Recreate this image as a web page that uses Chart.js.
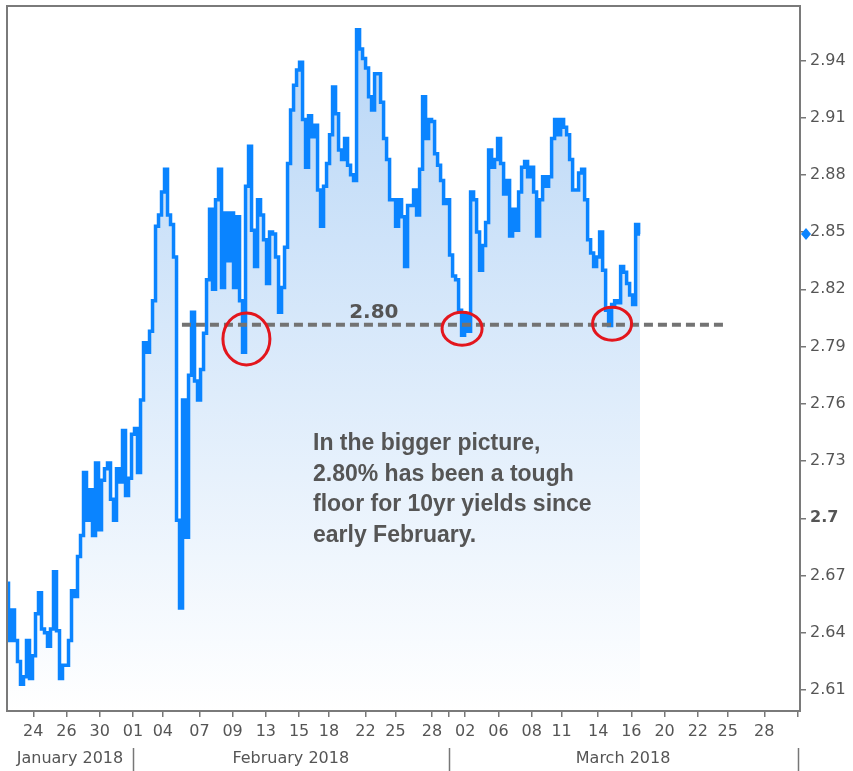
<!DOCTYPE html>
<html>
<head>
<meta charset="utf-8">
<script src="https://cdn.jsdelivr.net/npm/chart.js@4.4.1/dist/chart.umd.min.js"></script>
<style>
  html,body{margin:0;padding:0;background:#fff;}
  canvas{display:block;}
</style>
</head>
<body>
<canvas id="c" width="853" height="771"></canvas>
<script>
// 10yr yield, intraday. x is in trading days counted from Mon Jan 22 2018
// (weekends, Feb 19 and Good Friday left out, like the original axis)
const startDay = 0.42;
const stepDay = 0.1806; // one sample every ~4.3h

const yields = [
  2.666,2.636,2.652,2.636,2.625,2.613,2.617,2.636,2.616,2.628,
  2.650,2.661,2.642,2.640,2.633,2.642,2.672,2.641,2.616,2.623,
  2.623,2.636,2.662,2.659,2.680,2.691,2.724,2.699,2.715,2.691,
  2.729,2.694,2.720,2.726,2.729,2.710,2.699,2.726,2.719,2.746,
  2.712,2.721,2.744,2.747,2.724,2.762,2.792,2.787,2.798,2.814,
  2.853,2.859,2.871,2.883,2.859,2.854,2.837,2.699,2.653,2.762,
  2.690,2.775,2.808,2.772,2.762,2.778,2.797,2.825,2.862,2.820,
  2.867,2.883,2.821,2.860,2.835,2.860,2.821,2.858,2.814,2.787,
  2.874,2.895,2.851,2.832,2.867,2.859,2.846,2.823,2.850,2.849,
  2.837,2.808,2.821,2.842,2.886,2.914,2.927,2.935,2.939,2.909,
  2.884,2.911,2.900,2.906,2.872,2.853,2.874,2.886,2.901,2.926,
  2.912,2.893,2.888,2.899,2.885,2.880,2.877,2.956,2.946,2.941,
  2.936,2.921,2.914,2.933,2.933,2.918,2.899,2.888,2.867,2.867,
  2.853,2.867,2.858,2.832,2.864,2.864,2.872,2.859,2.883,2.921,
  2.899,2.909,2.908,2.891,2.885,2.877,2.865,2.867,2.838,2.827,
  2.825,2.809,2.796,2.807,2.798,2.871,2.867,2.850,2.830,2.843,
  2.855,2.893,2.884,2.888,2.899,2.886,2.870,2.877,2.848,2.862,
  2.851,2.871,2.884,2.887,2.879,2.884,2.871,2.848,2.867,2.879,
  2.874,2.879,2.899,2.909,2.901,2.909,2.905,2.901,2.888,2.872,
  2.872,2.881,2.883,2.867,2.846,2.839,2.832,2.837,2.850,2.830,
  2.809,2.801,2.812,2.814,2.813,2.832,2.829,2.823,2.817,2.812,
  2.854,2.849
];

const floorLabel = '2.80';
const floorLevel = 2.8015;
const floorFrom = 10.95;
const floorTo = 43.58;

const circleDays = [14.83, 27.81, 36.84];
const circleYields = [2.794, 2.7994, 2.802];

const tickDays   = [2, 4, 6, 8, 9.8, 12, 14, 16, 18, 19.8, 22, 23.8, 26, 27, 28, 30, 32, 33.8, 36, 38, 40, 42, 43.8, 46, 48];
const tickLabels = ['24','26','30','01','04','07','09','13','15','18','22','25','28','','02','06','08','11','14','16','20','22','25','28',''];

const monthStarts = [0.42, 8, 27];
const monthEnds = [8, 27, 48];
const monthNames = ['January 2018', 'February 2018', 'March 2018'];

const yTicks = [2.61, 2.64, 2.67, 2.70, 2.73, 2.76, 2.79, 2.82, 2.85, 2.88, 2.91, 2.94];
const yMin = 2.5990, yMax = 2.9685;
const xMin = 0.42, xMax = 48.15;

const noteLines = ['In the bigger picture,', '2.80% has been a tough', 'floor for 10yr yields since', 'early February.'];

const GREY = '#555555';
const BLUE = '#0a84ff';

function fillGradient(c){
  const area = c.chart.chartArea;
  if(!area) return 'rgba(0,0,0,0)';
  const g = c.chart.ctx.createLinearGradient(0, area.top, 0, area.bottom);
  g.addColorStop(0, 'rgb(182,213,246)');
  g.addColorStop(1, 'rgb(255,255,255)');
  return g;
}

const decor = {
  id: 'decor',
  afterDatasetsDraw(chart){
    const {ctx, scales:{x, y}} = chart;
    const radii = [[23.5, 26], [20, 16.5], [19.5, 16.5]];
    ctx.save();
    ctx.strokeStyle = '#e3161d';
    ctx.lineWidth = 3;
    circleDays.forEach((d, i) => {
      ctx.beginPath();
      ctx.ellipse(x.getPixelForValue(d), y.getPixelForValue(circleYields[i]), radii[i][0], radii[i][1], 0, 0, Math.PI*2);
      ctx.stroke();
    });
    // 2.80 label
    ctx.fillStyle = GREY;
    ctx.font = 'bold 20px "DejaVu Sans"';
    ctx.textAlign = 'center';
    ctx.textBaseline = 'alphabetic';
    ctx.fillText(floorLabel, x.getPixelForValue(22.5), y.getPixelForValue(floorLevel) - 7);
    // note
    ctx.textAlign = 'left';
    ctx.font = 'bold 23px "Liberation Sans"';
    noteLines.forEach((t, i) => ctx.fillText(t, 313, 450 + i*30.5));
    ctx.restore();
  },
  afterDraw(chart){
    const {ctx, chartArea:a, scales:{x, y}} = chart;
    ctx.save();
    // frame
    ctx.strokeStyle = '#7a7a7a';
    ctx.lineWidth = 2;
    ctx.strokeRect(a.left, a.top, a.right - a.left, a.bottom - a.top);
    // month separators + names
    ctx.lineWidth = 1.5;
    ctx.strokeStyle = '#777';
    monthEnds.forEach(d => {
      const px = Math.round(x.getPixelForValue(d)) + 0.5;
      ctx.beginPath(); ctx.moveTo(px, 748); ctx.lineTo(px, 771); ctx.stroke();
    });
    ctx.fillStyle = GREY;
    ctx.font = '16px "DejaVu Sans"';
    ctx.textAlign = 'center';
    ctx.textBaseline = 'middle';
    monthNames.forEach((m, i) => {
      const l = Math.max(a.left, x.getPixelForValue(monthStarts[i]));
      const r = x.getPixelForValue(monthEnds[i]);
      ctx.fillText(m, (l + r)/2, 759);
    });
    // last value marker on the axis
    const ly = y.getPixelForValue(yields[yields.length - 1]);
    const lx = a.right + 6;
    ctx.fillStyle = BLUE;
    ctx.beginPath();
    ctx.moveTo(lx, ly - 6); ctx.lineTo(lx + 5, ly); ctx.lineTo(lx, ly + 6); ctx.lineTo(lx - 5, ly);
    ctx.closePath(); ctx.fill();
    ctx.restore();
  }
};

const points = yields.map((v, i) => ({x: startDay + i*stepDay, y: v}));

new Chart(document.getElementById('c'), {
  type: 'line',
  data: {
    datasets: [
      {
        data: points,
        borderColor: BLUE,
        borderWidth: 3.5,
        pointRadius: 0,
        stepped: 'middle',
        fill: 'start',
        backgroundColor: fillGradient,
        order: 2
      },
      {
        data: [{x: floorFrom, y: floorLevel}, {x: floorTo, y: floorLevel}],
        borderColor: '#737373',
        borderWidth: 4,
        borderDash: [9, 5],
        pointRadius: 0,
        fill: false,
        order: 1
      }
    ]
  },
  options: {
    responsive: false,
    animation: false,
    layout: { padding: {left: 7, top: 6, right: 1, bottom: 0} },
    plugins: { legend: {display: false}, tooltip: {enabled: false} },
    scales: {
      x: {
        type: 'linear', min: xMin, max: xMax,
        afterBuildTicks: s => { s.ticks = tickDays.map(v => ({value: v})); },
        afterFit: s => { s.height = 60; s.paddingLeft = 0; s.paddingRight = 0; },
        grid: { drawOnChartArea: false, drawTicks: true, tickLength: 6, color: '#777', lineWidth: 1.5 },
        border: { display: false },
        ticks: {
          autoSkip: false, maxRotation: 0, padding: 5, color: GREY,
          font: { family: 'DejaVu Sans', size: 16 },
          callback: (v, i) => tickLabels[i]
        }
      },
      y: {
        position: 'right', min: yMin, max: yMax,
        afterBuildTicks: s => { s.ticks = yTicks.map(v => ({value: v})); },
        afterFit: s => { s.width = 52; s.paddingTop = 0; s.paddingBottom = 0; },
        grid: { drawOnChartArea: false, drawTicks: true, tickLength: 6, color: '#777', lineWidth: 1.5 },
        border: { display: false },
        ticks: {
          padding: 4, color: GREY,
          font: c => ({ family: 'DejaVu Sans', size: 16,
            weight: (c.tick && Math.abs(c.tick.value - 2.7) < 1e-6) ? 'bold' : 'normal' }),
          callback: v => String(Number(v.toFixed(2)))
        }
      }
    }
  },
  plugins: [decor]
});
</script>
</body>
</html>
